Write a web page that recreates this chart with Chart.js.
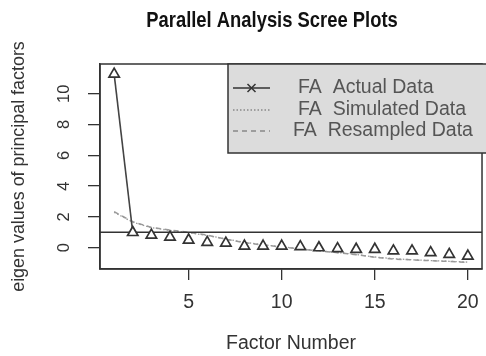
<!DOCTYPE html>
<html>
<head>
<meta charset="utf-8">
<script src="https://cdn.jsdelivr.net/npm/chart.js@4"></script>
<style>
  html, body { margin: 0; padding: 0; background: #fff; overflow: hidden; width: 486px; height: 356px; }
  canvas { display: block; }
</style>
</head>
<body>
<canvas id="c" width="490" height="356"></canvas>
<script>
// ---- data ----
const factors = [1,2,3,4,5,6,7,8,9,10,11,12,13,14,15,16,17,18,19,20];
const actualFA = [11.27,0.99,0.82,0.69,0.50,0.35,0.30,0.11,0.11,0.11,0.07,0.00,-0.06,-0.10,-0.10,-0.20,-0.20,-0.32,-0.43,-0.54];
const simulatedFA = [2.30,1.66,1.30,1.12,0.97,0.80,0.57,0.35,0.20,0.06,-0.06,-0.19,-0.31,-0.44,-0.60,-0.71,-0.78,-0.83,-0.88,-0.93];
const resampledFA = [2.34,1.69,1.32,1.15,1.00,0.82,0.55,0.33,0.18,0.05,-0.08,-0.20,-0.32,-0.45,-0.62,-0.73,-0.79,-0.84,-0.89,-0.95];
const xTickValues = [5,10,15,20];
const yTickValues = [0,2,4,6,8,10];
const referenceLine = 1;
const xRange = [0.24, 20.76];
const yRange = [-1.38, 11.93];
const titleText = 'Parallel Analysis Scree Plots';
const xLabel = 'Factor Number';
const yLabel = 'eigen values of principal factors';
const legendLabels = ['FA  Actual Data', 'FA  Simulated Data', 'FA  Resampled Data'];

const pts = arr => factors.map((f, i) => ({x: f, y: arr[i]}));
const FONT = '"Liberation Sans", Arial, sans-serif';
const GAP = 13; // R type="b" leaves a gap round each point

const overlay = {
  id: 'overlay',
  afterDraw(chart) {
    const {ctx, chartArea: a, scales: {y}} = chart;
    ctx.save();
    // plot box
    ctx.strokeStyle = '#333'; ctx.lineWidth = 1.5; ctx.setLineDash([]);
    ctx.strokeRect(a.left, a.top, a.right - a.left, a.bottom - a.top);

    // legend
    const lx = 228, ly = a.top, lw = 300, lh = 89;
    ctx.fillStyle = '#dcdcdc';
    ctx.fillRect(lx, ly, lw, lh);
    ctx.strokeStyle = '#333'; ctx.lineWidth = 1.5;
    ctx.strokeRect(lx, ly, lw, lh);
    const rowsY = [88, 110, 131];
    ctx.strokeStyle = '#333'; ctx.lineWidth = 1.5;
    ctx.beginPath(); ctx.moveTo(233, rowsY[0]); ctx.lineTo(270, rowsY[0]); ctx.stroke();
    ctx.beginPath();
    ctx.moveTo(247.5, rowsY[0]-4); ctx.lineTo(255.5, rowsY[0]+4);
    ctx.moveTo(255.5, rowsY[0]-4); ctx.lineTo(247.5, rowsY[0]+4);
    ctx.stroke();
    ctx.strokeStyle = '#888'; ctx.lineWidth = 1.3; ctx.setLineDash([1.5, 2]);
    ctx.beginPath(); ctx.moveTo(233, rowsY[1]); ctx.lineTo(270, rowsY[1]); ctx.stroke();
    ctx.setLineDash([5, 4]);
    ctx.beginPath(); ctx.moveTo(233, rowsY[2]); ctx.lineTo(270, rowsY[2]); ctx.stroke();
    ctx.setLineDash([]);
    ctx.fillStyle = '#555';
    ctx.font = '19.5px ' + FONT;
    ctx.textAlign = 'left'; ctx.textBaseline = 'middle';
    const textX = [298, 298, 293];
    legendLabels.forEach((t, i) => ctx.fillText(t, textX[i], rowsY[i]));

    // title (slightly taller glyphs, as in the reference)
    ctx.save();
    ctx.fillStyle = '#111';
    ctx.font = 'bold 18.4px ' + FONT;
    ctx.textAlign = 'center';
    ctx.translate(272, 21);
    ctx.scale(1, 1.15);
    ctx.fillText(titleText, 0, 0);
    ctx.restore();

    // x label
    ctx.fillStyle = '#333';
    ctx.font = '19.5px ' + FONT;
    ctx.textAlign = 'center';
    ctx.fillText(xLabel, (a.left + a.right) / 2, 344);

    // y label
    ctx.save();
    ctx.translate(19, (a.top + a.bottom) / 2);
    ctx.rotate(-Math.PI / 2);
    ctx.font = '17.9px ' + FONT;
    ctx.fillText(yLabel, 0, 0);
    ctx.restore();

    // y tick labels (rotated, as R does)
    ctx.font = '16.5px ' + FONT;
    yTickValues.forEach(v => {
      ctx.save();
      ctx.translate(64, y.getPixelForValue(v));
      ctx.rotate(-Math.PI / 2);
      ctx.fillText(String(v), 0, 0);
      ctx.restore();
    });
    ctx.restore();
  }
};

new Chart(document.getElementById('c'), {
  type: 'line',
  data: {
    datasets: [
      {
        label: legendLabels[0],
        data: pts(actualFA),
        borderColor: '#444', borderWidth: 1.6,
        segment: {
          borderColor: c => Math.hypot(c.p1.x - c.p0.x, c.p1.y - c.p0.y) > 2 * GAP ? '#444' : 'rgba(0,0,0,0)'
        },
        pointStyle: 'triangle', pointRadius: 6, pointBorderWidth: 1.7,
        pointBorderColor: '#333', pointBackgroundColor: '#fff',
        tension: 0
      },
      {
        label: 'ref',
        data: [{x: xRange[0], y: referenceLine}, {x: xRange[1], y: referenceLine}],
        borderColor: '#333', borderWidth: 1.5, pointRadius: 0
      },
      {
        label: legendLabels[2],
        data: pts(resampledFA),
        borderColor: '#999', borderWidth: 1.5, borderDash: [5, 4], pointRadius: 0
      },
      {
        label: legendLabels[1],
        data: pts(simulatedFA),
        borderColor: '#999', borderWidth: 1.3, borderDash: [1.5, 2], pointRadius: 0
      }
    ]
  },
  options: {
    responsive: false,
    animation: false,
    devicePixelRatio: 1,
    events: [],
    layout: { padding: { top: 64, right: 1, left: 0, bottom: 0 } },
    plugins: { legend: { display: false }, tooltip: { enabled: false }, title: { display: false } },
    scales: {
      x: {
        type: 'linear', min: xRange[0], max: xRange[1],
        afterBuildTicks: s => { s.ticks = xTickValues.map(v => ({value: v})); },
        afterFit: s => { s.height = 87; },
        ticks: { font: { family: FONT, size: 19.5 }, color: '#333', padding: 11, maxRotation: 0, autoSkip: false },
        grid: { drawOnChartArea: false, drawTicks: true, tickLength: 11, color: '#333', lineWidth: 1.3 },
        border: { display: true, color: '#333', width: 1.5 }
      },
      y: {
        type: 'linear', min: yRange[0], max: yRange[1],
        afterBuildTicks: s => { s.ticks = yTickValues.map(v => ({value: v})); },
        afterFit: s => { s.width = 100; },
        ticks: { display: false },
        grid: { drawOnChartArea: false, drawTicks: true, tickLength: 12, color: '#333', lineWidth: 1.3 },
        border: { display: true, color: '#333', width: 1.5 }
      }
    }
  },
  plugins: [overlay]
});
</script>
</body>
</html>
